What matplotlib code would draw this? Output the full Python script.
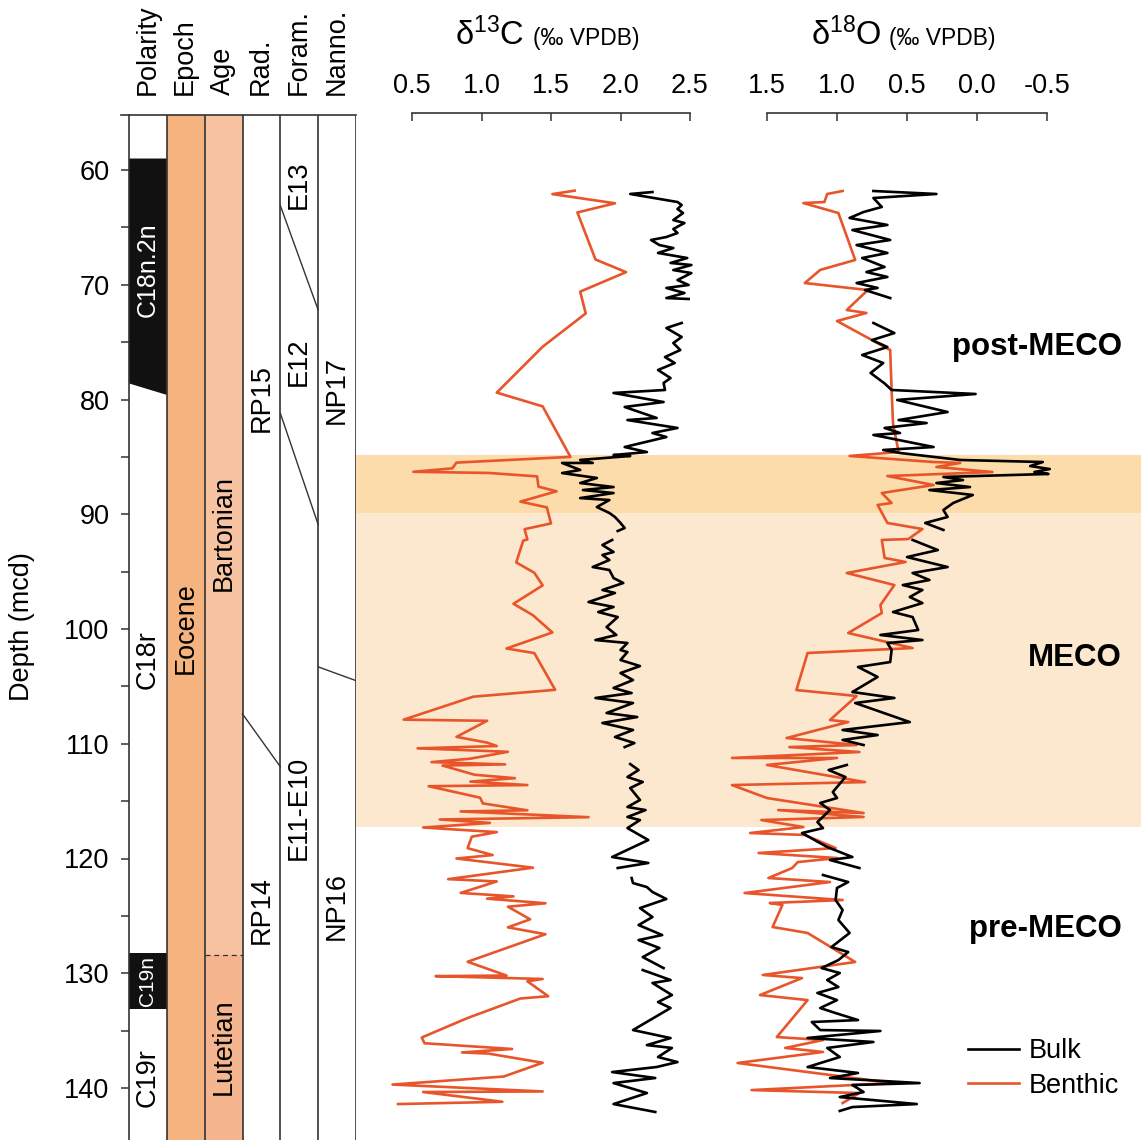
import numpy as np
import matplotlib
matplotlib.use("Agg")
import matplotlib.pyplot as plt
from matplotlib.patches import Polygon, Rectangle

plt.rcParams['font.family'] = ['Liberation Sans', 'DejaVu Sans']
plt.rcParams['mathtext.fontset'] = 'custom'
plt.rcParams['mathtext.rm'] = 'Liberation Sans'
plt.rcParams['mathtext.it'] = 'Liberation Sans:italic'
plt.rcParams['mathtext.bf'] = 'Liberation Sans:bold'

nan = np.nan

# ---------------- isotope records (depth in mcd, value in permil VPDB) ----------------
benthic_d13c_depth = [61.8, 62.1, 62.9, 63.7, 67.8, 68.9, 70.6, 72.5, 75.4, 79.4, 80.6, 85.0,
                      85.5, 86.0, 86.3, 86.4, 86.7, 87.6, 88.0, 88.9, 89.4, 90.8, 91.3, 92.2,
                      92.3, 94.2, 95.1, 96.2, 97.8, 98.8, 100.3, 101.7, 102.1, 105.3, 105.9,
                      107.9, 108.0, 109.4, 109.9, 110.2, 110.4, 110.7, 111.3, 111.6, 111.8,
                      111.9, 112.7, 113.0, 113.3, 113.6, 113.7, 114.7, 115.2, 115.8, 115.9,
                      116.4, 116.6, 116.9, 117.3, 117.7, 118.1, 119.1, 119.7, 120.0, 120.8,
                      121.8, 122.0, 123.0, 123.3, 123.5, 123.9, 124.2, 125.3, 126.0, 126.6,
                      129.0, 130.2, 130.25, 130.5, 130.7, 132.0, 132.2, 133.9, 135.6, 136.1,
                      136.6, 136.9, 137.0, 137.8, 139.0, 139.7, 140.3, 140.35, 141.2, 141.4]
benthic_d13c = [1.67, 1.51, 1.96, 1.69, 1.82, 2.04, 1.71, 1.75, 1.44, 1.11, 1.44, 1.64,
                0.82, 0.79, 0.51, 1.05, 1.40, 1.41, 1.54, 1.28, 1.47, 1.50, 1.31, 1.33,
                1.30, 1.25, 1.38, 1.44, 1.23, 1.37, 1.51, 1.18, 1.38, 1.53, 0.94,
                0.44, 1.04, 0.82, 1.04, 1.11, 0.54, 1.19, 0.92, 0.64, 1.17,
                0.72, 0.95, 1.24, 0.92, 1.33, 0.62, 0.99, 1.01, 1.33, 0.85,
                1.77, 0.70, 1.06, 0.58, 1.11, 0.93, 0.90, 1.08, 0.82, 1.37,
                0.76, 1.11, 0.85, 1.23, 1.04, 1.46, 1.19, 1.35, 1.19, 1.46,
                0.90, 1.18, 0.67, 1.44, 1.33, 1.48, 1.28, 0.90, 0.57, 0.59,
                1.22, 0.86, 1.05, 1.44, 1.16, 0.36, 1.44, 0.58, 1.15, 0.40]

bulk_d13c_depth = [61.92, 62.09, 62.79, 63.05, 63.40, 63.75, 64.36, 64.62, 65.14, 65.49, 65.84,
                   66.10, 66.54, 66.80, 67.23, 67.67, 68.10, 68.28, 68.72, 68.98, 69.59, 70.02,
                   70.28, 70.72, 71.16, 71.24, nan,
                   73.33, 73.77, 74.55, 75.08, 75.69, 76.30, 76.82, 77.43, 78.13, 78.56, 79.17,
                   79.43, 80.22, 80.65, 81.61, 81.79, 82.48, 82.92, 83.27, 84.14, 84.58, 84.84,
                   84.92, 85.27, 85.53, 85.53, 86.14, 86.41, 86.84, 87.28, 87.63, 87.89, 88.15,
                   88.59, 88.76, 89.37, 89.89, 90.24, 90.76, 91.20, 91.46, nan,
                   92.24, 92.68, 93.29, 93.55, 93.99, 94.60, 94.86, 95.56, 95.99, 96.60, 96.86,
                   97.65, 98.08, 98.52, 98.96, 99.83, 100.52, 100.96, 101.22, 101.83, 102.01,
                   102.70, 103.23, 103.84, 104.45, 105.14, 105.58, 106.01, 106.45, 107.32,
                   107.67, 108.19, 108.80, 109.41, 109.94, 110.29, nan,
                   111.77, 112.29, 112.90, 113.33, 113.86, 114.30, 114.90, 115.51, 115.78,
                   116.38, 116.65, 117.35, 118.39, 119.87, 120.39, 120.83, nan,
                   121.70, 122.14, 122.49, 122.92, 123.53, 124.32, 125.10, 125.80, 126.67,
                   127.11, 127.80, 128.59, 129.55, nan,
                   129.72, 130.59, 130.85, 131.90, 132.51, 133.03, 134.95, 135.65, 136.26,
                   136.51, 137.30, 137.74, 138.17, 138.61, 139.13, 139.57, 140.44, 141.40, 142.09]
bulk_d13c = [2.23, 2.07, 2.41, 2.44, 2.41, 2.45, 2.38, 2.46, 2.38, 2.41, 2.33,
             2.22, 2.28, 2.38, 2.27, 2.48, 2.36, 2.51, 2.38, 2.51, 2.41, 2.49,
             2.33, 2.46, 2.33, 2.49, nan,
             2.44, 2.33, 2.44, 2.38, 2.43, 2.32, 2.39, 2.27, 2.36, 2.31, 2.32,
             1.95, 2.31, 2.03, 2.26, 2.05, 2.41, 2.23, 2.33, 2.03, 2.19, 1.95,
             2.07, 1.71, 1.80, 1.58, 1.71, 1.58, 1.83, 1.71, 1.95, 1.73, 1.95,
             1.71, 1.92, 1.83, 1.92, 1.96, 2.00, 2.03, 1.98, nan,
             1.94, 1.87, 1.95, 1.87, 1.92, 1.80, 1.92, 1.95, 2.02, 1.87, 1.96,
             1.77, 1.95, 1.84, 1.98, 1.90, 1.97, 1.82, 2.05, 2.00, 2.05,
             2.00, 2.14, 2.00, 2.09, 1.95, 2.08, 1.82, 2.09, 1.90,
             2.12, 1.87, 2.09, 1.96, 2.10, 2.03, nan,
             2.07, 2.13, 2.05, 2.16, 2.07, 2.10, 2.14, 2.05, 2.18,
             2.05, 2.14, 2.05, 2.20, 1.94, 2.20, 1.98, nan,
             2.08, 2.09, 2.19, 2.23, 2.33, 2.14, 2.23, 2.13, 2.30,
             2.13, 2.28, 2.16, 2.31, nan,
             2.16, 2.36, 2.23, 2.37, 2.27, 2.36, 2.09, 2.36, 2.19,
             2.37, 2.27, 2.41, 2.26, 1.94, 2.25, 1.95, 2.19, 1.95, 2.25]

benthic_d18o_depth = [61.83, 62.09, 62.79, 62.88, 63.75, 67.84, 68.71, 69.85, 70.46, 72.20, 72.46,
                      73.16, 75.69, 79.17, 82.05, 84.58, 84.92, 85.45, 85.53, 85.88, 86.32, 86.67,
                      87.45, 88.15, 89.02, 89.19, 90.76, 91.29, 92.16, 92.24, 93.81, 94.16, 95.12,
                      96.17, 97.91, 98.61, 100.35, 101.66, 102.09, 105.32, 105.84, 107.93, 108.11,
                      109.50, 110.11, 110.29, 110.72, 111.24, 111.24, 111.85, 113.34, 113.60,
                      114.73, 116.04, 115.78, 116.38, 116.65, 117.26, 117.78, 117.95, 119.09,
                      119.52, 119.96, 120.31, 120.83, 121.70, 122.05, 123.01, 123.62, 123.88,
                      124.05, 125.97, 126.49, 129.02, 130.15, 130.42, 131.90, 132.34, 135.56,
                      135.82, 136.51, 136.86, 137.82, 138.61, 139.57, 140.18, 140.44, 141.31]
benthic_d18o = [0.96, 1.07, 1.09, 1.24, 0.99, 0.87, 1.12, 1.23, 0.78, 0.93, 0.79,
                1.00, 0.62, 0.61, 0.60, 0.56, 0.91, 0.31, 0.12, 0.29, -0.11, 0.64,
                0.31, 0.68, 0.61, 0.71, 0.64, 0.39, 0.49, 0.68, 0.66, 0.51, 0.93,
                0.59, 0.69, 0.68, 0.92, 0.46, 1.21, 1.29, 0.86, 1.05, 0.92,
                1.36, 0.86, 1.34, 0.84, 1.75, 1.00, 1.50, 0.80, 1.75,
                1.50, 0.81, 1.42, 0.81, 1.54, 1.24, 1.62, 1.23, 1.01,
                1.56, 1.00, 1.28, 1.32, 1.49, 1.05, 1.66, 0.96, 1.48,
                1.39, 1.46, 1.21, 0.87, 1.53, 1.25, 1.55, 1.21, 1.43,
                1.10, 1.37, 1.10, 1.71, 1.21, 0.60, 1.61, 0.84, 0.96]

bulk_d18o_depth = [61.83, 62.09, 62.44, 63.22, 63.66, 64.18, 64.79, 65.23, 66.10, 66.54, 67.23,
                   67.67, 68.45, 68.89, 69.32, 69.85, 70.28, 70.46, 71.16, nan,
                   73.33, 74.21, 74.82, 75.43, 76.12, 76.82, 77.69, 78.60, 79.17, 79.52, 80.04,
                   81.09, 81.79, 82.05, 82.48, 82.92, 83.09, 84.14, 84.40, 84.66, 85.27, 85.45,
                   85.80, 86.06, 86.32, 86.49, 86.75, 87.02, 87.28, 87.63, 87.89, 88.32, 89.02,
                   89.63, 90.24, 90.76, 91.37, nan,
                   92.24, 93.12, 93.73, 94.60, 95.12, 95.73, 96.17, 96.60, 97.21, 97.74, 98.52,
                   98.96, 100.09, 100.52, 100.96, 101.22, 101.83, 102.88, 103.31, 104.18,
                   105.49, 106.01, 106.45, 108.11, 108.80, 109.24, 109.67, 110.11, nan,
                   111.85, 112.29, 112.90, 114.21, 114.73, 115.16, 115.78, 116.82, 117.35,
                   117.78, 119.00, 119.87, 120.13, 120.83, nan,
                   121.44, 122.05, 122.57, 123.62, 124.49, 125.36, 126.49, 127.72, 128.15,
                   128.85, 129.55, 129.98, 130.59, 131.20, 131.72, 132.34, 133.03, 133.47,
                   134.08, 134.25, 134.95, 135.03, 135.64, 135.99, 136.51, 137.30, 138.17,
                   138.69, 139.13, 139.57, 139.74, 140.35, 140.79, 141.40, 141.66, 142.00]
bulk_d18o = [0.74, 0.29, 0.74, 0.68, 0.81, 0.91, 0.64, 0.89, 0.62, 0.86, 0.64,
             0.82, 0.66, 0.79, 0.64, 0.86, 0.71, 0.80, 0.62, nan,
             0.74, 0.59, 0.75, 0.64, 0.82, 0.67, 0.76, 0.66, 0.61, 0.01, 0.57,
             0.21, 0.56, 0.36, 0.66, 0.55, 0.74, 0.31, 0.67, 0.55, 0.12, -0.47,
             -0.38, -0.52, -0.41, -0.51, 0.24, 0.10, 0.29, 0.05, 0.34, 0.03, 0.17,
             0.24, 0.21, 0.37, 0.24, nan,
             0.46, 0.28, 0.50, 0.21, 0.46, 0.34, 0.53, 0.39, 0.48, 0.39, 0.60,
             0.46, 0.42, 0.69, 0.39, 0.64, 0.61, 0.62, 0.85, 0.71,
             0.89, 0.59, 0.87, 0.48, 0.96, 0.71, 0.96, 0.81, nan,
             0.93, 1.06, 0.94, 1.03, 1.00, 1.12, 1.05, 1.14, 1.10,
             1.25, 1.07, 0.89, 1.05, 0.84, nan,
             1.10, 0.92, 1.00, 1.01, 0.96, 0.99, 0.91, 1.04, 0.92,
             0.99, 1.11, 0.98, 1.07, 0.99, 1.14, 1.00, 1.12, 1.01,
             0.85, 1.18, 1.12, 0.69, 1.21, 0.74, 1.07, 0.98, 1.21,
             0.85, 1.05, 0.41, 0.89, 0.81, 0.98, 0.43, 0.89, 0.98]

# ---------------- stratigraphic framework ----------------
column_titles = ['Polarity', 'Epoch', 'Age', 'Rad.', 'Foram.', 'Nanno.']
depth_ticks = [60, 70, 80, 90, 100, 110, 120, 130, 140]
d13c_ticks = [0.5, 1.0, 1.5, 2.0, 2.5]
d18o_ticks = [1.5, 1.0, 0.5, 0.0, -0.5]
meco_peak = (84.85, 89.9)
meco_interval = (89.9, 117.25)

# ---------------- layout helpers ----------------
W, H = 1141, 1140
fig = plt.figure(figsize=(W / 100, H / 100), dpi=100)
fig.patch.set_facecolor('white')

PX_PER_M = 11.475
Y60 = 170.0


def depth_at(py):
    return 60 + (py - Y60) / PX_PER_M


def rect(x0, y0, x1, y1):
    return [x0 / W, 1 - y1 / H, (x1 - x0) / W, (y1 - y0) / H]


def fx(px):
    return px / W


def fy(py):
    return 1 - py / H


ORANGE = '#E8552B'
EPOCH_C = '#F5B380'
BART_C = '#F7C3A1'
LUT_C = '#F5B58F'
LINE_C = '#333333'
FS = 19.5

# ---------------- background bands ----------------
ax_bg = fig.add_axes(rect(356, 113, 1141, 1140))
ax_bg.set_ylim(depth_at(1140), depth_at(113))
ax_bg.set_xlim(0, 1)
ax_bg.axhspan(*meco_peak, color='#FCDCAB', lw=0)
ax_bg.axhspan(*meco_interval, color='#FCE8CE', lw=0)
ax_bg.axis('off')

# ---------------- stratigraphic columns ----------------
ax = fig.add_axes(rect(129, 115, 356, 1140))
ax.set_xlim(0, 6)
ax.set_ylim(depth_at(1140), depth_at(115))
top_d = depth_at(115)
bot_d = depth_at(1140)

# polarity
ax.add_patch(Polygon([(0, 59.0), (1, 59.0), (1, 79.6), (0, 78.6)], closed=True,
                     facecolor='#111111', edgecolor='none'))
ax.add_patch(Rectangle((0, 128.2), 1, 133.1 - 128.2, facecolor='#111111', edgecolor='none'))
# epoch
ax.add_patch(Rectangle((1, top_d), 1, bot_d - top_d, facecolor=EPOCH_C, edgecolor='none'))
# age
ax.add_patch(Rectangle((2, top_d), 1, 128.4 - top_d, facecolor=BART_C, edgecolor='none'))
ax.add_patch(Rectangle((2, 128.4), 1, bot_d - 128.4, facecolor=LUT_C, edgecolor='none'))
ax.plot([2, 3], [128.4, 128.4], ls=(0, (4, 3)), color=LINE_C, lw=0.9)

# zone boundaries
for (x0, d0, x1, d1) in [(3, 107.4, 4, 112.0), (4, 63.1, 5, 72.2),
                         (4, 81.2, 5, 90.9), (5, 103.3, 6, 104.5)]:
    ax.plot([x0, x1], [d0, d1], color=LINE_C, lw=1.0)

for xb in range(1, 7):
    ax.axvline(xb, color=LINE_C, lw=1.2)
ax.plot([-8 / 37.8, 6], [top_d, top_d], color=LINE_C, lw=1.2, clip_on=False)

for s in ['top', 'right', 'bottom']:
    ax.spines[s].set_visible(False)
ax.spines['left'].set_color(LINE_C)
ax.spines['left'].set_linewidth(1.2)
ax.set_xticks([])
ax.set_yticks(depth_ticks)
ax.set_yticks(list(range(65, 140, 10)), minor=True)
ax.tick_params(axis='y', which='both', direction='out', length=6, width=1.1,
               color=LINE_C, labelsize=FS, pad=8)

col_labels = [
    (0.5, 68.7, 'C18n.2n', 'white', 18), (0.5, 102.7, 'C18r', 'black', FS),
    (0.5, 130.7, 'C19n', 'white', 15), (0.5, 139.1, 'C19r', 'black', FS),
    (1.5, 99.9, 'Eocene', 'black', FS), (2.5, 91.6, 'Bartonian', 'black', FS),
    (2.5, 136.4, 'Lutetian', 'black', FS), (3.5, 79.9, 'RP15', 'black', FS),
    (3.5, 124.5, 'RP14', 'black', FS), (4.5, 61.3, 'E13', 'black', FS),
    (4.5, 76.7, 'E12', 'black', FS), (4.5, 115.6, 'E11-E10', 'black', FS),
    (5.5, 79.2, 'NP17', 'black', FS), (5.5, 124.1, 'NP16', 'black', FS),
]
for x, d, t, c, s in col_labels:
    ax.text(x, d, t, rotation=90, ha='center', va='center', color=c, fontsize=s)

col_centers_px = [147.5, 185, 223, 261, 299, 337]
for cx, t in zip(col_centers_px, column_titles):
    fig.text(fx(cx), fy(95), t, rotation=90, ha='center', va='bottom', fontsize=FS)

fig.text(fx(22), fy(627), 'Depth (mcd)', rotation=90, ha='center', va='center', fontsize=FS)

# ---------------- isotope panels ----------------
def setup_panel(a, ticks, labels, lo, hi):
    a.set_facecolor('none')
    a.set_ylim(depth_at(1140), depth_at(113))
    for s in ['left', 'right', 'bottom']:
        a.spines[s].set_visible(False)
    a.spines['top'].set_bounds(lo, hi)
    a.spines['top'].set_color(LINE_C)
    a.spines['top'].set_linewidth(1.2)
    a.set_yticks([])
    a.xaxis.set_ticks_position('top')
    a.set_xticks(ticks)
    a.set_xticklabels(labels)
    a.tick_params(axis='x', direction='in', length=6, width=1.1, color=LINE_C,
                  labelsize=FS, pad=10)


ax_c = fig.add_axes(rect(357, 113, 730, 1140))
ax_c.set_xlim(0.5 + (357 - 412) / 139, 0.5 + (730 - 412) / 139)
setup_panel(ax_c, d13c_ticks, ['0.5', '1.0', '1.5', '2.0', '2.5'], 0.5, 2.5)
ax_c.plot(benthic_d13c, benthic_d13c_depth, color=ORANGE, lw=1.9, clip_on=False)
ax_c.plot(bulk_d13c, bulk_d13c_depth, color='black', lw=1.9, clip_on=False)

ax_o = fig.add_axes(rect(730, 113, 1141, 1140))
ax_o.set_xlim(1.5 + (767 - 730) / 140, 1.5 - (1141 - 767) / 140)
setup_panel(ax_o, d18o_ticks, ['1.5', '1.0', '0.5', '0.0', '-0.5'], -0.5, 1.5)
l_ben, = ax_o.plot(benthic_d18o, benthic_d18o_depth, color=ORANGE, lw=1.9, clip_on=False)
l_bulk, = ax_o.plot(bulk_d18o, bulk_d18o_depth, color='black', lw=1.9, clip_on=False)

# panel titles
fig.text(fx(455), fy(45), r'δ$^{13}$C', fontsize=23.5, ha='left', va='baseline')
fig.text(fx(533), fy(45), '(‰ VPDB)', fontsize=16.5, ha='left', va='baseline')
fig.text(fx(811), fy(45), r'δ$^{18}$O', fontsize=23.5, ha='left', va='baseline')
fig.text(fx(889), fy(45), '(‰ VPDB)', fontsize=16.5, ha='left', va='baseline')

# interval labels
for t, py in [('post-MECO', 355), ('MECO', 666), ('pre-MECO', 937)]:
    fig.text(fx(1122), fy(py), t, fontsize=22.5, fontweight='bold', ha='right', va='baseline')

ax_o.legend([l_bulk, l_ben], ['Bulk', 'Benthic'], loc='upper left',
            bbox_to_anchor=(fx(968), fy(1038)), bbox_transform=fig.transFigure,
            frameon=False, fontsize=FS, handlelength=1.9, handletextpad=0.35,
            labelspacing=0.32, borderpad=0, borderaxespad=0)

fig.savefig('out.png', dpi=100, facecolor='white')
